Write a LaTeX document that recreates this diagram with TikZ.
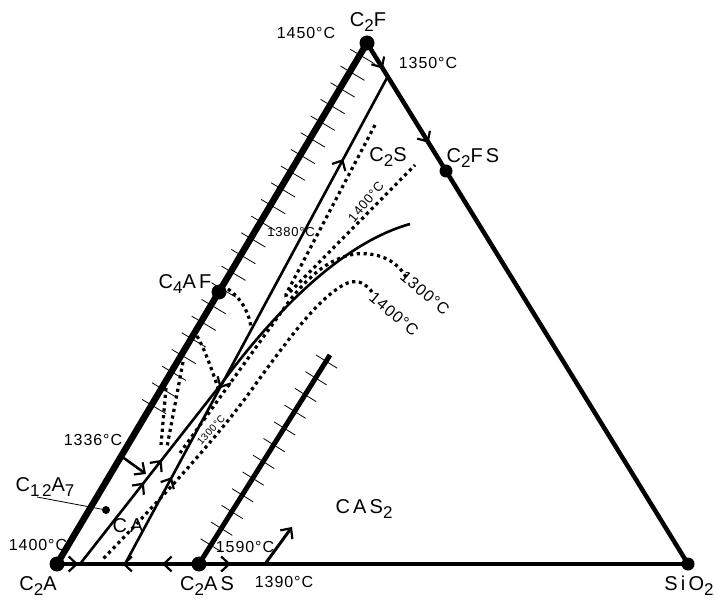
\documentclass[tikz,border=0pt]{standalone}
\usepackage{fontspec}
\usepackage{graphicx}
\setmainfont{Liberation Sans}[LetterSpace=6]
\newfontfamily\chemfont{Liberation Sans}[LetterSpace=16]
\usetikzlibrary{arrows.meta, positioning, calc, decorations.markings}

\newcommand{\sbs}[1]{\raisebox{-0.5ex}{\scalebox{0.85}{#1}}}

\begin{document}
\begin{tikzpicture}[
    x=1pt, y=-1pt,
    barb/.tip={Straight Barb[length=8pt, width=15pt, line width=2.2pt]},
    phase/.style={fill=black, circle, inner sep=0pt, minimum size=15pt},
    joinside/.style={line width=6.5pt},
    border/.style={line width=4.5pt},
    bound/.style={line width=2.6pt},
    tick/.style={line width=0.8pt},
    iso/.style={line width=3.2pt, dash pattern=on 3.2pt off 3.6pt},
    midarr/.style={postaction={decorate, decoration={markings, mark=at position #1 with {\arrow{barb}}}}},
    revarr/.style={postaction={decorate, decoration={markings, mark=at position #1 with {\arrowreversed{barb}}}}},
    lbl/.style={font=\chemfont\fontsize{20}{22}\selectfont},
    temp/.style={font=\fontsize{16}{18}\selectfont},
    tempsm/.style={font=\fontsize{13}{15}\selectfont},
]
    \useasboundingbox (0,0) rectangle (714,601);

    % --- COMPOSITION POINTS ---
    \coordinate (c2f) at (367,43);
    \coordinate (c2a) at (57,564);
    \coordinate (sio2) at (688,564);
    \coordinate (c4af) at (219,292);
    \coordinate (c2fs) at (446,171);
    \coordinate (c2as) at (199,564);
    \coordinate (c2astop) at (330,355);

    % boundary curve ends
    \coordinate (l1a) at (80,564);
    \coordinate (inv) at (222,383);
    \coordinate (l1b) at (410,224);
    \coordinate (l2a) at (125,564);
    \coordinate (l2b) at (388,76);
    \coordinate (e1336) at (121,456);
    \coordinate (f1336) at (146,474);
    \coordinate (b1390) at (265,564);
    \coordinate (a1390) at (292,527);
    \coordinate (c12a7dot) at (106,510);

    % --- TRIANGLE ---
    \draw[joinside] (c2a) -- (c2f);
    \draw[border, midarr=0.2, midarr=0.78] (c2f) -- (c2fs);
    \draw[border] (c2fs) -- (sio2);
    \draw[border, midarr=0.15, revarr=0.46, revarr=0.74] (c2a) -- (c2as);
    \draw[border, midarr=0.065] (c2as) -- (sio2);

    % hatching along the C2A-C2F join
    \foreach \i in {0,...,21} {
        \pgfmathsetmacro\t{0.305+0.032*\i}
        \coordinate (p) at ($(c2a)!\t!(c2f)$);
        \draw[tick] ($(p)!-11pt!-90:(c2f)$) -- ($(p)!17pt!-90:(c2f)$);
    }

    % C2AS join with hatching
    \draw[line width=5pt] (c2as) -- (c2astop);
    \foreach \i in {0,...,11} {
        \pgfmathsetmacro\t{0.09+0.08*\i}
        \coordinate (p) at ($(c2as)!\t!(c2astop)$);
        \draw[tick] ($(p)!-12pt!-90:(c2astop)$) -- ($(p)!13pt!-90:(c2astop)$);
    }

    % --- BOUNDARY LINES ---
    \draw[bound, midarr=0.45, midarr=0.575] (l1a) -- (inv);
    \draw[bound] (inv) .. controls (265,325) and (335,245) .. (l1b);
    \draw[bound, midarr=0.178, revarr=0.36, midarr=0.83] (l2a) -- (l2b);
    \draw[bound, -{barb}] (e1336) -- (f1336);
    \draw[line width=3pt, -{barb}] (b1390) -- (a1390);

    % --- ISOTHERMS ---
    \draw[iso, rounded corners=6pt] (375,125) -- (284,298) -- (415,165);
    \draw[iso] (406,277) .. controls (395,258) and (375,252) .. (355,254)
        .. controls (330,258) and (310,275) .. (290,300) -- (180,453);
    \draw[iso] (372,292) .. controls (362,278) and (350,280) .. (340,287)
        .. controls (320,300) and (300,322) .. (250,392)
        .. controls (215,440) and (160,500) .. (102,560);
    \draw[iso] (228,289) .. controls (243,300) and (250,315) .. (251,329);
    \draw[iso] (197,336) .. controls (205,350) and (212,370) .. (218,388);
    \draw[iso] (183,362) -- (167,447);
    \draw[iso] (166,388) -- (161,445);

    % --- PHASE DOTS ---
    \node[phase] (dc2f) at (c2f) {};
    \node[phase] (dc2a) at (c2a) {};
    \node[phase, minimum size=13pt] (dsio2) at (sio2) {};
    \node[phase] (dc4af) at (c4af) {};
    \node[phase, minimum size=13pt] (dc2fs) at (c2fs) {};
    \node[phase] (dc2as) at (c2as) {};
    \node[phase, minimum size=8pt] (dc12a7) at (c12a7dot) {};

    % --- LABELS ---
    \node[lbl] (tc2f) at (368,22) {C\sbs{2}F};
    \node[temp] (t1450) at (306,33) {1450°C};
    \node[temp] (t1350) at (428,63) {1350°C};
    \node[lbl] (tc2fs) at (473,158) {C\sbs{2}FS};
    \node[lbl] (tc2s) at (388,157) {C\sbs{2}S};
    \node[tempsm, rotate=50] (t1400a) at (366,202) {1400°C};
    \node[tempsm] (t1380) at (291,232) {1380°C};
    \node[lbl] (tc4af) at (185,284) {C\sbs{4}AF};
    \node[temp, rotate=-40] (t1300a) at (425,293) {1300°C};
    \node[temp, rotate=-40] (t1400b) at (394,314) {1400°C};
    \node[font=\fontsize{10}{12}\selectfont, rotate=48] (t1300b) at (211,430) {1300°C};
    \node[temp] (t1336) at (93,440) {1336°C};
    \node[lbl] (tc12a7) at (45,487) {C\sbs{12}A\sbs{7}};
    \node[lbl] (tca) at (128,526) {CA};
    \node[temp] (t1400c) at (38,545) {1400°C};
    \node[lbl] (tc2a) at (38,586) {C\sbs{2}A};
    \node[lbl] (tc2as) at (207,586) {C\sbs{2}AS};
    \node[temp] (t1590) at (245,547) {1590°C};
    \node[temp] (t1390) at (284,582) {1390°C};
    \node[lbl] (tcas2) at (364,509) {CAS\sbs{2}};
    \node[lbl] (tsio2) at (689,586) {SiO\sbs{2}};

    \draw[line width=0.8pt] (37,497) -- (dc12a7);

\end{tikzpicture}
\end{document}
